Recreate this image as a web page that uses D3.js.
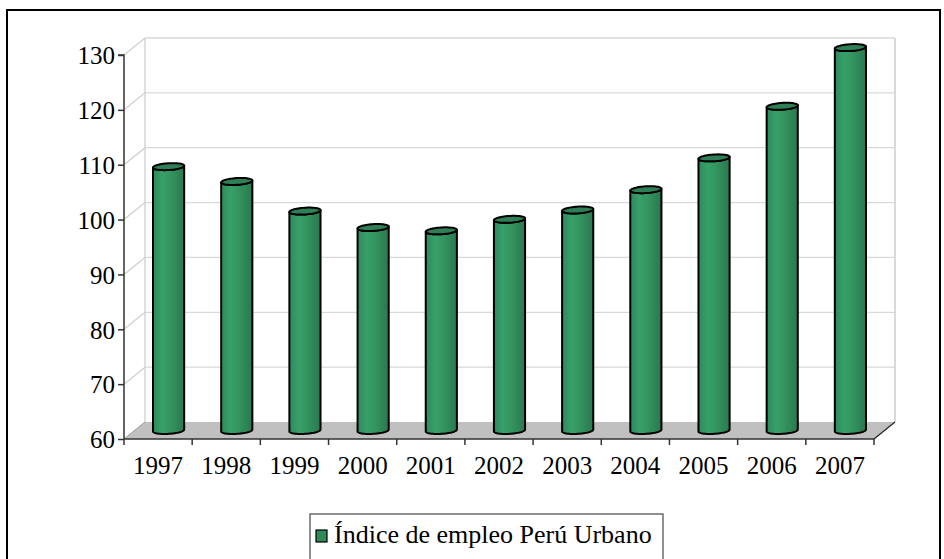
<!DOCTYPE html>
<html><head><meta charset="utf-8">
<script src="https://cdn.jsdelivr.net/npm/d3@7"></script>
<style>
html,body{margin:0;padding:0;background:#fff;}
svg{display:block;}
text{font-family:"Liberation Serif","Times New Roman",serif;fill:#000;}
</style></head>
<body>
<svg id="chart" width="944" height="559"></svg>
<script>
const years = ["1997","1998","1999","2000","2001","2002","2003","2004","2005","2006","2007"];
const values = [108.1, 105.4, 100.0, 97.0, 96.4, 98.5, 100.2, 103.9, 109.7, 119.1, 129.8];
const yTicks = [60, 70, 80, 90, 100, 110, 120, 130];
const seriesName = "Índice de empleo Perú Urbano";

const svg = d3.select("#chart");
const DX = 21, DY = 17;
const x0 = 124, x1 = 874, yBottom = 439, yTop = 55;
const x = d3.scaleBand().domain(years).range([x0, x1]).padding(0);
const y = d3.scaleLinear().domain([60, 130]).range([yBottom, yTop]);

const defs = svg.append("defs");
const grad = defs.append("linearGradient").attr("id","barGrad").attr("x1","0").attr("x2","1").attr("y1","0").attr("y2","0");
[[0,"#2e8a5b"],[0.3,"#37a06a"],[0.55,"#34955f"],[0.75,"#2f8858"],[1,"#2a7850"]].forEach(s=>grad.append("stop").attr("offset",s[0]).attr("stop-color",s[1]));

// outer frame
svg.append("rect").attr("x",7).attr("y",10).attr("width",933).attr("height",560)
  .attr("fill","none").attr("stroke","#000").attr("stroke-width",2);

// back wall gridlines
const g = svg.append("g");
yTicks.forEach(t=>{
  if (t===60) return;
  g.append("line").attr("x1",x0+DX).attr("x2",x1+DX).attr("y1",y(t)-DY).attr("y2",y(t)-DY)
    .attr("stroke","#d9d9d9").attr("stroke-width",1.3);
  g.append("line").attr("x1",x0).attr("x2",x0+DX).attr("y1",y(t)).attr("y2",y(t)-DY)
    .attr("stroke","#d0d0d0").attr("stroke-width",1.3);
});
g.append("line").attr("x1",x0+DX).attr("x2",x0+DX).attr("y1",y(130)-DY).attr("y2",y(60)-DY).attr("stroke","#d0d0d0").attr("stroke-width",1.3);
g.append("line").attr("x1",x1+DX).attr("x2",x1+DX).attr("y1",y(130)-DY).attr("y2",y(60)-DY).attr("stroke","#d9d9d9").attr("stroke-width",2);

// floor
g.append("path").attr("d",`M${x0},${y(60)}L${x1},${y(60)}L${x1+DX},${y(60)-DY}L${x0+DX},${y(60)-DY}Z`)
  .attr("fill","#c0c0c0").attr("stroke","none");
g.append("line").attr("x1",x1).attr("y1",y(60)).attr("x2",x1+DX).attr("y2",y(60)-DY).attr("stroke","#222").attr("stroke-width",1.2);
g.append("line").attr("x1",x0).attr("y1",y(60)).attr("x2",x0+DX).attr("y2",y(60)-DY).attr("stroke","#999").attr("stroke-width",1);

// bars (cylinders)
const R = 15, A = 4.2, B = 3.5;
function ell(cx, cy, t){ return [cx + R*Math.cos(t) + A*Math.sin(t), cy - B*Math.sin(t)]; }
const tL = Math.PI + Math.atan(A/R), tR = Math.atan(A/R);
function arcPts(cx, cy, ta, tb, n){ const p=[]; for(let i=0;i<=n;i++){ p.push(ell(cx,cy,ta+(tb-ta)*i/n)); } return p; }
const line = d3.line();
const bars = svg.append("g");
years.forEach((yr,i)=>{
  const cx = x(yr) + x.bandwidth()/2 + DX/2;
  const cyB = y(60) - DY/2;
  const cyT = y(values[i]) - DY/2;
  const topFront = arcPts(cx, cyT, tL, tR + 2*Math.PI, 40);
  const botFront = arcPts(cx, cyB, tR + 2*Math.PI, tL, 40);
  bars.append("path").attr("d", line(topFront.concat(botFront))+"Z").attr("fill","url(#barGrad)")
    .attr("stroke","#000").attr("stroke-width",2).attr("stroke-linejoin","round");
  const cap = arcPts(cx, cyT, 0, 2*Math.PI, 60);
  bars.append("path").attr("d", line(cap)+"Z").attr("fill","#2e7f56")
    .attr("stroke","#000").attr("stroke-width",2);
});

// y axis
const yAxis = svg.append("g").attr("transform",`translate(${x0},0)`)
  .call(d3.axisLeft(y).tickValues(yTicks).tickSize(6).tickPadding(3).tickFormat(d3.format("d")));
yAxis.select(".domain").attr("stroke","#333").attr("stroke-width",1.5).attr("d",`M-6,${y(130)}H0V${y(60)}`);
yAxis.selectAll(".tick line").attr("stroke","#333").attr("stroke-width",1.5);
yAxis.selectAll(".tick text").attr("font-size","25px").attr("font-family","Liberation Serif").attr("fill","#000").attr("dy","0.35em");

// x axis
const xAxis = svg.append("g").attr("transform",`translate(0,${y(60)})`)
  .call(d3.axisBottom(x).tickSize(0).tickPadding(17));
xAxis.select(".domain").attr("stroke","#333").attr("stroke-width",1.5).attr("d",`M${x0},0H${x1}`);
xAxis.selectAll(".tick text").attr("font-size","25px").attr("font-family","Liberation Serif").attr("fill","#000");
const bounds = years.map(yr=>x(yr)).concat([x1]);
xAxis.selectAll(".bt").data(bounds).enter().append("line").attr("class","bt")
  .attr("x1",d=>d).attr("x2",d=>d).attr("y1",0).attr("y2",6).attr("stroke","#333").attr("stroke-width",1.5);

// legend
const lg = svg.append("g");
lg.append("rect").attr("x",310).attr("y",514).attr("width",353).attr("height",60)
  .attr("fill","none").attr("stroke","#555").attr("stroke-width",1.3);
lg.append("rect").attr("x",316).attr("y",530).attr("width",11).attr("height",12)
  .attr("fill","#2e8b57").attr("stroke","#000").attr("stroke-width",1.2);
lg.append("text").attr("x",334).attr("y",543).attr("font-size","26px").text(seriesName);
</script>
</body></html>
